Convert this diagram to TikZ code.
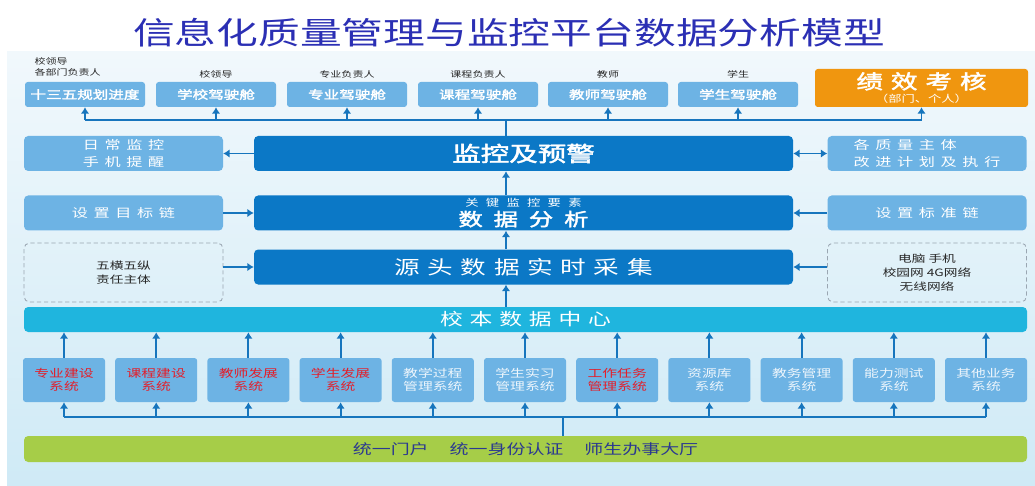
\documentclass[tikz,border=0pt]{standalone}
\usepackage{fontspec}
\setmainfont{Noto Sans CJK SC}[AutoFakeBold=2]
\usepackage{graphicx}
\usetikzlibrary{arrows.meta,positioning}

\definecolor{lightcell}{HTML}{6DB3E4}
\definecolor{maincell}{HTML}{0B78C6}
\definecolor{dccyan}{HTML}{1FB5DE}
\definecolor{portalgreen}{HTML}{A6CD48}
\definecolor{perforange}{HTML}{F0960F}
\definecolor{wireblue}{HTML}{1675BD}
\definecolor{titleblue}{HTML}{2B2FB4}
\definecolor{sysred}{HTML}{E31E2A}
\definecolor{syswhite}{HTML}{EEF6FC}
\definecolor{portaltext}{HTML}{2B3990}
\definecolor{paneltop}{HTML}{F1F8FC}
\definecolor{panelbot}{HTML}{CFEAF6}
\definecolor{dashgray}{HTML}{9AA6B2}

\newcommand{\pxu}{0.7113pt}
\newcommand{\sx}[1]{\scalebox{1.35}[1]{#1}}
\newcommand{\fsz}[2]{\fontsize{#1pt}{#2pt}\selectfont}
\newcommand{\gp}[1][0.3em]{\hspace{#1}}

\tikzset{
  wh/.style 2 args={minimum width=#1*\pxu, minimum height=#2*\pxu},
  lab/.style={inner sep=1pt, font=\fsz{5.8}{7.8}, text=black!85},
  topbox/.style={fill=lightcell, rounded corners=2pt, inner sep=0pt, text=white, font=\fsz{8.2}{10}\bfseries, wh={120}{25}},
  sidebox/.style={fill=lightcell, rounded corners=3pt, inner sep=0pt, text=white, font=\fsz{8.5}{12}, wh={199}{35}, align=center},
  mainbox/.style={fill=maincell, rounded corners=3pt, inner sep=0pt, text=white, wh={539}{35}, align=center},
  dashbox/.style={draw=dashgray, line width=0.6pt, dash pattern=on 3pt off 2pt, rounded corners=4pt, inner sep=0pt, wh={199}{59}, align=center, font=\fsz{7.2}{10}, text=black!85},
  sysbox/.style={fill=lightcell, rounded corners=2pt, inner sep=0pt, wh={82}{44}, align=center, font=\fsz{7.8}{9.4}, text=syswhite},
  redsys/.style={sysbox, text=sysred},
  wire/.style={wireblue, line width=1.3pt},
  arr/.style={wire, -{Latex[length=4.5pt,width=6pt]}},
  dbl/.style={wire, {Latex[length=4.5pt,width=6pt]}-{Latex[length=4.5pt,width=6pt]}}
}

\begin{document}
\begin{tikzpicture}[x=\pxu, y=-\pxu]
\useasboundingbox (0,0) rectangle (1035,486);
\fill[white] (0,0) rectangle (1035,486);
\fill[top color=paneltop, bottom color=panelbot] (7,52) rectangle (1035,486);

\node (title) at (509,33) {\fsz{22}{26}\color{titleblue}\sx{信息化质量管理与监控平台数据分析模型}};

\node[topbox] (plan) at (85,94.5) {\sx{十三五规划进度}};
\node[topbox] (school) at (216,94.5) {\sx{学校驾驶舱}};
\node[topbox] (major) at (347,94.5) {\sx{专业驾驶舱}};
\node[topbox] (course) at (478,94.5) {\sx{课程驾驶舱}};
\node[topbox] (teacher) at (608,94.5) {\sx{教师驾驶舱}};
\node[topbox] (student) at (738,94.5) {\sx{学生驾驶舱}};
\node[fill=perforange, rounded corners=2pt, inner sep=0pt, wh={213}{38}, text=white, align=center] (perf) at (921.5,88)
  {\fsz{14}{16}\bfseries\sx{绩\gp 效\gp 考\gp 核}\\[-2pt]\fsz{7}{9}\sx{（部门、个人）}};

\node[lab, anchor=south west, align=left] (lplan) at (33,78) {\sx{校领导}\\\sx{各部门负责人}};
\node[lab, above=1.5pt of school] (lschool) {\sx{校领导}};
\node[lab, above=1.5pt of major] (lmajor) {\sx{专业负责人}};
\node[lab, above=1.5pt of course] (lcourse) {\sx{课程负责人}};
\node[lab, above=1.5pt of teacher] (lteacher) {\sx{教师}};
\node[lab, above=1.5pt of student] (lstudent) {\sx{学生}};

\node[mainbox] (mon) at (523.5,153.5) {\fsz{15}{18}\bfseries\sx{监控及预警}};
\node[mainbox] (ana) at (523.5,213)
  {\fsz{7}{8}\sx{关\gp[.55em]键\gp[.55em]监\gp[.55em]控\gp[.55em]要\gp[.55em]素}\\[1.5pt]\fsz{12.8}{14}\bfseries\sx{数\gp[.45em]据\gp[.45em]分\gp[.45em]析}};
\node[mainbox] (src) at (523.5,267) {\fsz{13.5}{16}\sx{源\gp 头\gp 数\gp 据\gp 实\gp 时\gp 采\gp 集}};

\node[sidebox] (daily) at (123.5,153.5) {\sx{日\gp[.35em]常\gp[.35em]监\gp[.35em]控}\\\sx{手\gp[.35em]机\gp[.35em]提\gp[.35em]醒}};
\node[sidebox] (target) at (123.5,213) {\sx{设\gp[.35em]置\gp[.35em]目\gp[.35em]标\gp[.35em]链}};
\node[dashbox] (fiveways) at (123.5,272.5) {\sx{五横五纵}\\\sx{责任主体}};

\node[sidebox, align=left] (improve) at (927,153.5) {\sx{各\gp[.35em]质\gp[.35em]量\gp[.35em]主\gp[.35em]体}\\\sx{改\gp[.35em]进\gp[.35em]计\gp[.35em]划\gp[.35em]及\gp[.35em]执\gp[.35em]行}};
\node[sidebox] (standard) at (927,213) {\sx{设\gp[.35em]置\gp[.35em]标\gp[.35em]准\gp[.35em]链}};
\node[dashbox] (devices) at (927,272.5) {\sx{电脑 手机}\\\sx{校园网 4G网络}\\\sx{无线网络}};

\node[fill=dccyan, rounded corners=3pt, inner sep=0pt, wh={1003}{25}, text=white] (dc) at (525.5,319.5)
  {\fsz{12}{14}\sx{校\gp 本\gp 数\gp 据\gp 中\gp 心}};

\node[redsys] (s1) at (64,380) {\sx{专业建设}\\\sx{系统}};
\node[redsys] (s2) at (156.2,380) {\sx{课程建设}\\\sx{系统}};
\node[redsys] (s3) at (248.4,380) {\sx{教师发展}\\\sx{系统}};
\node[redsys] (s4) at (340.6,380) {\sx{学生发展}\\\sx{系统}};
\node[sysbox] (s5) at (432.8,380) {\sx{教学过程}\\\sx{管理系统}};
\node[sysbox] (s6) at (525,380) {\sx{学生实习}\\\sx{管理系统}};
\node[redsys] (s7) at (617.2,380) {\sx{工作任务}\\\sx{管理系统}};
\node[sysbox] (s8) at (709.4,380) {\sx{资源库}\\\sx{系统}};
\node[sysbox] (s9) at (801.6,380) {\sx{教务管理}\\\sx{系统}};
\node[sysbox] (s10) at (893.8,380) {\sx{能力测试}\\\sx{系统}};
\node[sysbox] (s11) at (986,380) {\sx{其他业务}\\\sx{系统}};

\node[fill=portalgreen, rounded corners=3pt, inner sep=0pt, wh={1003}{26}, text=portaltext] (portal) at (525.5,449)
  {\fsz{10}{12}\sx{统一门户\gp[1.1em]统一身份认证\gp[1.1em]师生办事大厅}};

\coordinate (tophub) at (506,120);
\coordinate (bothub) at (563,417);

\draw[wire] (mon.north -| tophub) -- (tophub);
\draw[wire] (plan.south |- tophub) -- (perf.south |- tophub);
\draw[arr] (plan.south |- tophub) -- (plan.south);
\draw[arr] (school.south |- tophub) -- (school.south);
\draw[arr] (major.south |- tophub) -- (major.south);
\draw[arr] (course.south |- tophub) -- (course.south);
\draw[arr] (teacher.south |- tophub) -- (teacher.south);
\draw[arr] (student.south |- tophub) -- (student.south);
\draw[arr] (perf.south |- tophub) -- (perf.south);

\draw[arr] (dc.north -| tophub) -- (src.south -| tophub);
\draw[arr] (src.north -| tophub) -- (ana.south -| tophub);
\draw[arr] (ana.north -| tophub) -- (mon.south -| tophub);

\draw[arr] (mon.west) -- (daily.east);
\draw[dbl] (mon.east) -- (improve.west);
\draw[arr] (target.east) -- (ana.west);
\draw[arr] (standard.west) -- (ana.east);
\draw[arr] (src.west -| fiveways.east) -- (src.west);
\draw[arr] (src.east -| devices.west) -- (src.east);

\draw[wire] (portal.north -| bothub) -- (bothub);
\draw[wire] (s1.south |- bothub) -- (s11.south |- bothub);
\draw[arr] (s1.south |- bothub) -- (s1.south);
\draw[arr] (s2.south |- bothub) -- (s2.south);
\draw[arr] (s3.south |- bothub) -- (s3.south);
\draw[arr] (s4.south |- bothub) -- (s4.south);
\draw[arr] (s5.south |- bothub) -- (s5.south);
\draw[arr] (s6.south |- bothub) -- (s6.south);
\draw[arr] (s7.south |- bothub) -- (s7.south);
\draw[arr] (s8.south |- bothub) -- (s8.south);
\draw[arr] (s9.south |- bothub) -- (s9.south);
\draw[arr] (s10.south |- bothub) -- (s10.south);
\draw[arr] (s11.south |- bothub) -- (s11.south);

\draw[arr] (s1.north) -- (s1.north |- dc.south);
\draw[arr] (s2.north) -- (s2.north |- dc.south);
\draw[arr] (s3.north) -- (s3.north |- dc.south);
\draw[arr] (s4.north) -- (s4.north |- dc.south);
\draw[arr] (s5.north) -- (s5.north |- dc.south);
\draw[arr] (s6.north) -- (s6.north |- dc.south);
\draw[arr] (s7.north) -- (s7.north |- dc.south);
\draw[arr] (s8.north) -- (s8.north |- dc.south);
\draw[arr] (s9.north) -- (s9.north |- dc.south);
\draw[arr] (s10.north) -- (s10.north |- dc.south);
\draw[arr] (s11.north) -- (s11.north |- dc.south);
\end{tikzpicture}
\end{document}
